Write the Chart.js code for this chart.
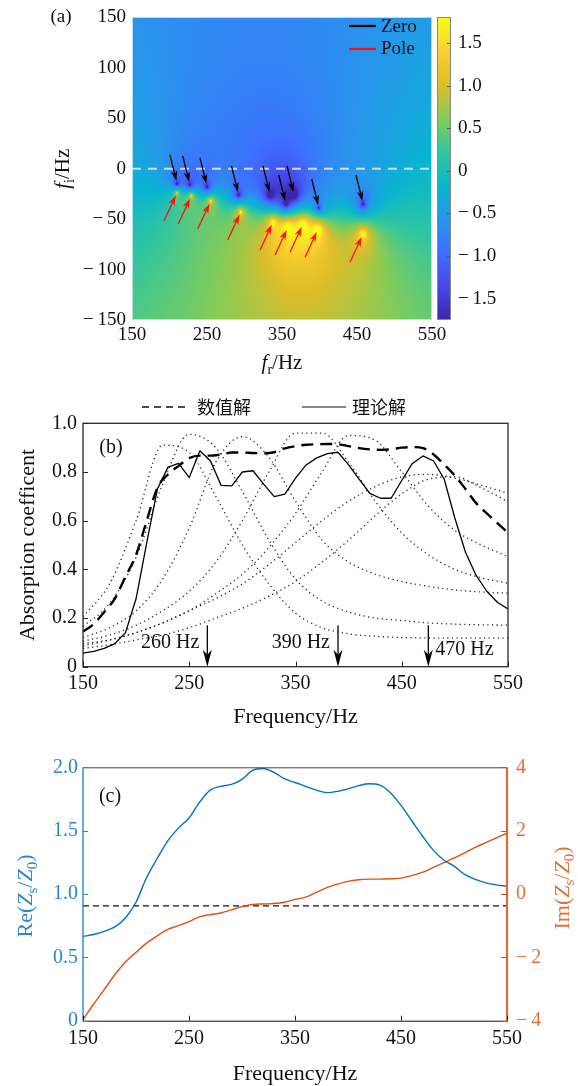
<!DOCTYPE html>
<html>
<head>
<meta charset="utf-8">
<script src="https://cdn.jsdelivr.net/npm/chart.js@4.4.1/dist/chart.umd.min.js"></script>
<style>
  body { margin: 0; background: #fff; }
  canvas { position: absolute; left: 0; }
</style>
</head>
<body>
<canvas id="chartA" width="578" height="380" style="top:0"></canvas>
<canvas id="chartB" width="578" height="360" style="top:380px"></canvas>
<canvas id="chartC" width="578" height="346" style="top:740px"></canvas>
<script>
const SERIF = "'Liberation Serif', 'DejaVu Serif', serif";
const CJK = "'Noto Sans CJK SC', 'Noto Sans CJK JP', sans-serif";

// ---- (a) zeros and poles in the complex frequency plane (Hz) ----
const zeroFr = [210, 227, 250, 292, 334, 355, 366, 399, 458];
const zeroFi = [-15, -16, -18, -26, -26, -35, -26, -39, -35];
const poleFr = [210, 229, 255, 295, 338, 358, 378, 398, 458];
const poleFi = [-24, -27, -32, -43, -53, -58, -55, -60, -65];
const frTicks = [150, 250, 350, 450, 550];
const fiTicks = [-150, -100, -50, 0, 50, 100, 150];
const cbTicks = [-1.5, -1, -0.5, 0, 0.5, 1, 1.5];
const cbRange = [-1.75, 1.8];

// ---- (b) absorption coefficient ----
const freqB = [150, 160, 170, 180, 190, 200, 210, 220, 230, 240, 250, 260, 270, 280, 290, 300, 310, 320, 330, 340, 350,
               360, 370, 380, 390, 400, 410, 420, 430, 440, 450, 460, 470, 480, 490, 500, 510, 520, 530, 540, 550];
const numerical = [0.144, 0.175, 0.225, 0.28, 0.37, 0.46, 0.6, 0.735, 0.79, 0.825, 0.857, 0.867, 0.867, 0.872, 0.88, 0.88,
                   0.878, 0.877, 0.881, 0.897, 0.906, 0.912, 0.914, 0.915, 0.914, 0.906, 0.898, 0.893, 0.891, 0.893, 0.9,
                   0.902, 0.898, 0.872, 0.83, 0.785, 0.73, 0.672, 0.63, 0.59, 0.55];
const theory = [0.056, 0.063, 0.075, 0.095, 0.14, 0.28, 0.51, 0.73, 0.82, 0.835, 0.777, 0.887, 0.845, 0.745, 0.743, 0.8,
                0.805, 0.75, 0.699, 0.709, 0.775, 0.829, 0.858, 0.875, 0.881, 0.829, 0.77, 0.712, 0.692, 0.692, 0.765,
                0.835, 0.866, 0.845, 0.77, 0.61, 0.47, 0.375, 0.31, 0.265, 0.237];
const freqDot = [150, 175, 200, 225, 250, 275, 300, 325, 350, 375, 400, 425, 450, 475, 500, 525, 550];
const dot1 = [0.205, 0.34, 0.6, 0.91, 0.88, 0.7, 0.5, 0.34, 0.22, 0.16, 0.135, 0.125, 0.12, 0.118, 0.117, 0.117, 0.117];
const dot2 = [0.165, 0.26, 0.45, 0.75, 0.955, 0.9, 0.72, 0.52, 0.36, 0.27, 0.225, 0.2, 0.19, 0.18, 0.175, 0.172, 0.171];
const dot3 = [0.12, 0.16, 0.23, 0.36, 0.57, 0.84, 0.945, 0.86, 0.68, 0.52, 0.43, 0.38, 0.35, 0.33, 0.315, 0.307, 0.302];
const dot4 = [0.105, 0.13, 0.17, 0.23, 0.31, 0.43, 0.6, 0.8, 0.96, 0.96, 0.84, 0.68, 0.55, 0.46, 0.4, 0.365, 0.343];
const dot5 = [0.095, 0.11, 0.14, 0.18, 0.23, 0.3, 0.38, 0.49, 0.63, 0.8, 0.95, 0.93, 0.8, 0.66, 0.56, 0.5, 0.452];
const dot6 = [0.085, 0.11, 0.14, 0.18, 0.23, 0.28, 0.34, 0.42, 0.51, 0.6, 0.68, 0.74, 0.78, 0.79, 0.775, 0.745, 0.713];
const dot7 = [0.075, 0.09, 0.11, 0.13, 0.16, 0.2, 0.24, 0.29, 0.35, 0.43, 0.52, 0.62, 0.71, 0.77, 0.78, 0.735, 0.678];
const markFreq = [267, 390, 475];
const markLabel = ['260 Hz', '390 Hz', '470 Hz'];
const absTicks = [0, 0.2, 0.4, 0.6, 0.8, 1.0];

// ---- (c) surface impedance ----
const reZ = [0.665, 0.68, 0.705, 0.74, 0.81, 0.935, 1.13, 1.28, 1.42, 1.52, 1.6, 1.725, 1.82, 1.85, 1.865, 1.905, 1.975,
             1.99, 1.96, 1.91, 1.88, 1.85, 1.82, 1.8, 1.81, 1.83, 1.855, 1.87, 1.86, 1.8, 1.7, 1.58, 1.46, 1.35, 1.27,
             1.22, 1.155, 1.115, 1.088, 1.072, 1.062];
const imZ = [-3.96, -3.48, -3.02, -2.55, -2.15, -1.84, -1.55, -1.32, -1.12, -1.0, -0.87, -0.72, -0.65, -0.6, -0.5, -0.4,
             -0.33, -0.315, -0.3, -0.26, -0.17, -0.1, 0.05, 0.2, 0.31, 0.4, 0.45, 0.47, 0.47, 0.48, 0.5, 0.58, 0.68, 0.83,
             0.98, 1.13, 1.3, 1.47, 1.62, 1.77, 1.92];
const refLevel = 0.907;
const reTicks = [0, 0.5, 1, 1.5, 2];
const imTicks = [-4, -2, 0, 2, 4];

// styles
const parula = [[62, 38, 168], [71, 71, 235], [62, 111, 255], [39, 150, 235], [8, 181, 208],
                [49, 198, 159], [129, 204, 89], [220, 189, 41], [252, 207, 48], [249, 251, 21]];
// shading of the complex plane: gain on log|Z|, constant offset and a gentle tilt with fi
const fieldGain = 1.25, fieldOffset = -0.05, fieldTilt = -0.0015;
const BLUE = '#0072bd', ORANGE = '#d95319';

function cmap(t) {
  t = Math.min(1, Math.max(0, t));
  const s = t * (parula.length - 1);
  const i = Math.min(Math.floor(s), parula.length - 2);
  const u = s - i;
  return parula[i].map((c, k) => Math.round(c + (parula[i + 1][k] - c) * u));
}

function fieldAt(fr, fi) {
  let v = 0;
  for (let k = 0; k < zeroFr.length; k++) {
    v += Math.log10(Math.max(Math.hypot(fr - zeroFr[k], fi - zeroFi[k]), 0.3));
    v -= Math.log10(Math.max(Math.hypot(fr - poleFr[k], fi - poleFi[k]), 0.3));
  }
  return fieldGain * v + fieldOffset + fieldTilt * fi;
}

const pts = (xs, ys) => xs.map((x, i) => ({ x, y: ys[i] }));
const fixedTicks = values => s => { s.ticks = values.map(v => ({ value: v })); };
const signed = (v, d) => (v < 0 ? '\u2212\u2009' : '') + Math.abs(v).toFixed(d);
const noGrid = { display: false, drawTicks: false };

function drawRich(ctx, parts, x, y, size, color, rot) {
  ctx.save();
  ctx.translate(x, y);
  if (rot) ctx.rotate(rot);
  const fontOf = p => `${p.it ? 'italic ' : ''}${p.sub ? Math.round(size * 0.68) : size}px ${SERIF}`;
  let w = 0;
  parts.forEach(p => { ctx.font = fontOf(p); p.w = ctx.measureText(p.t).width; w += p.w; });
  let cx = -w / 2;
  ctx.fillStyle = color;
  ctx.textBaseline = 'alphabetic';
  ctx.textAlign = 'left';
  parts.forEach(p => {
    ctx.font = fontOf(p);
    ctx.fillText(p.t, cx, size * 0.33 + (p.sub ? size * 0.22 : 0));
    cx += p.w;
  });
  ctx.restore();
}

function arrow(ctx, x0, y0, x1, y1, color, lw, headLen, headW) {
  const ang = Math.atan2(y1 - y0, x1 - x0);
  const c = Math.cos(ang), s = Math.sin(ang);
  const bx = x1 - headLen * c, by = y1 - headLen * s;
  const nx = x1 - headLen * 0.7 * c, ny = y1 - headLen * 0.7 * s;
  ctx.save();
  ctx.strokeStyle = color; ctx.fillStyle = color; ctx.lineWidth = lw;
  ctx.beginPath(); ctx.moveTo(x0, y0); ctx.lineTo(nx, ny); ctx.stroke();
  ctx.beginPath();
  ctx.moveTo(x1, y1);
  ctx.lineTo(bx + headW / 2 * s, by - headW / 2 * c);
  ctx.lineTo(nx, ny);
  ctx.lineTo(bx - headW / 2 * s, by + headW / 2 * c);
  ctx.closePath(); ctx.fill();
  ctx.restore();
}

function text(ctx, t, x, y, font, color, align) {
  ctx.save();
  ctx.font = font; ctx.fillStyle = color || '#111';
  ctx.textAlign = align || 'center'; ctx.textBaseline = 'middle';
  ctx.fillText(t, x, y);
  ctx.restore();
}

function inwardTicks(ctx, scale, values, side, color, len) {
  ctx.save();
  ctx.strokeStyle = color; ctx.lineWidth = 1;
  const a = scale.chart.chartArea;
  values.forEach(v => {
    const p = Math.round(scale.getPixelForValue(v)) + 0.5;
    ctx.beginPath();
    if (side === 'bottom') { ctx.moveTo(p, a.bottom); ctx.lineTo(p, a.bottom - len); }
    if (side === 'left') { ctx.moveTo(a.left, p); ctx.lineTo(a.left + len, p); }
    if (side === 'right') { ctx.moveTo(a.right, p); ctx.lineTo(a.right - len, p); }
    ctx.stroke();
  });
  ctx.restore();
}

const base = {
  responsive: false, animation: false, devicePixelRatio: 1,
  plugins: { legend: { display: false }, tooltip: { enabled: false } },
  elements: { point: { radius: 0 }, line: { borderJoinStyle: 'round' } }
};

// ---------- (a) ----------
const fieldPlugin = {
  id: 'field',
  beforeDatasetsDraw(chart) {
    const { ctx, chartArea: a, scales: { x, y, cb } } = chart;
    const L = Math.round(a.left), T = Math.round(a.top);
    const w = Math.round(a.right) - L, h = Math.round(a.bottom) - T;
    const img = ctx.createImageData(w, h);
    for (let j = 0; j < h; j++) {
      const fi = y.getValueForPixel(T + j + 0.5);
      for (let i = 0; i < w; i++) {
        const fr = x.getValueForPixel(L + i + 0.5);
        const c = cmap((fieldAt(fr, fi) - cbRange[0]) / (cbRange[1] - cbRange[0]));
        const o = (j * w + i) * 4;
        img.data[o] = c[0]; img.data[o + 1] = c[1]; img.data[o + 2] = c[2]; img.data[o + 3] = 255;
      }
    }
    ctx.putImageData(img, L, T);
    // colour bar
    const cx0 = a.right + 5, cw = 14;
    const top = Math.round(cb.getPixelForValue(cbRange[1])), bot = Math.round(cb.getPixelForValue(cbRange[0]));
    for (let py = top; py < bot; py++) {
      const c = cmap((cb.getValueForPixel(py + 0.5) - cbRange[0]) / (cbRange[1] - cbRange[0]));
      ctx.fillStyle = `rgb(${c[0]},${c[1]},${c[2]})`;
      ctx.fillRect(cx0, py, cw, 1);
    }
    ctx.save();
    ctx.strokeStyle = '#8a8a8a'; ctx.lineWidth = 1;
    ctx.strokeRect(cx0 + 0.5, top + 0.5, cw - 1, bot - top - 1);
    ctx.strokeStyle = '#555';
    cbTicks.forEach(v => {
      const p = Math.round(cb.getPixelForValue(v)) + 0.5;
      ctx.beginPath(); ctx.moveTo(cx0 + cw - 1, p); ctx.lineTo(cx0 + cw - 4, p); ctx.stroke();
    });
    ctx.strokeStyle = 'rgba(200,225,240,0.9)';
    ctx.strokeRect(L + 0.5, T + 0.5, w - 1, h - 1);
    ctx.restore();
  }
};

const annotA = {
  id: 'annotA',
  afterDatasetsDraw(chart) {
    const { ctx, scales: { x, y } } = chart;
    zeroFr.forEach((f, i) => {
      const px = x.getPixelForValue(f), py = y.getPixelForValue(zeroFi[i]);
      arrow(ctx, px - 7, py - 29, px - 0.6, py - 3, '#000', 1.3, 10, 6.5);
    });
    poleFr.forEach((f, i) => {
      const px = x.getPixelForValue(f), py = y.getPixelForValue(poleFi[i]);
      arrow(ctx, px - 13, py + 28, px - 1.3, py + 2.7, '#ff1010', 1.3, 10, 6.5);
    });
  },
  afterDraw(chart) {
    const { ctx, chartArea: a } = chart;
    ctx.save();
    ctx.lineWidth = 2.2;
    ctx.strokeStyle = '#000';
    ctx.beginPath(); ctx.moveTo(349, 26); ctx.lineTo(376, 26); ctx.stroke();
    ctx.strokeStyle = '#ff1010';
    ctx.beginPath(); ctx.moveTo(349, 49); ctx.lineTo(376, 49); ctx.stroke();
    ctx.restore();
    text(ctx, 'Zero', 381, 27, `19px ${SERIF}`, '#111', 'left');
    text(ctx, 'Pole', 381, 49, `19px ${SERIF}`, '#111', 'left');
    text(ctx, '(a)', 61, 17, `19px ${SERIF}`, '#111');
    drawRich(ctx, [{ t: 'f', it: 1 }, { t: 'i', sub: 1 }, { t: '/Hz' }], 62, (a.top + a.bottom) / 2, 21, '#111', -Math.PI / 2);
    drawRich(ctx, [{ t: 'f', it: 1 }, { t: 'r', sub: 1 }, { t: '/Hz' }], (a.left + a.right) / 2, 362, 21, '#111');
  }
};

new Chart(document.getElementById('chartA'), {
  type: 'line',
  data: {
    datasets: [{
      data: pts([frTicks[0], frTicks[frTicks.length - 1]], [0, 0]),
      borderColor: 'rgba(228,236,244,0.85)', borderWidth: 2, borderDash: [9, 7]
    }]
  },
  options: {
    ...base,
    layout: { padding: { top: 12, left: 0, right: 0, bottom: 0 } },
    scales: {
      x: {
        type: 'linear', min: 150, max: 550, grid: noGrid, border: { display: false },
        afterBuildTicks: fixedTicks(frTicks), afterFit: s => { s.height = 60; },
        ticks: { font: { family: SERIF, size: 19 }, color: '#111', padding: 4, autoSkip: false, maxRotation: 0 }
      },
      y: {
        type: 'linear', min: -150, max: 150, grid: noGrid, border: { display: false },
        afterBuildTicks: fixedTicks(fiTicks), afterFit: s => { s.width = 132; },
        ticks: { font: { family: SERIF, size: 19 }, color: '#111', padding: 6, autoSkip: false, callback: v => signed(v, 0) }
      },
      cb: {
        type: 'linear', position: 'right', min: cbRange[0], max: cbRange[1],
        grid: { display: true, drawOnChartArea: false, drawTicks: true, tickLength: 24, color: 'rgba(0,0,0,0)' },
        border: { display: false },
        afterBuildTicks: fixedTicks(cbTicks), afterFit: s => { s.width = 146; },
        ticks: { font: { family: SERIF, size: 19 }, color: '#111', padding: 2, autoSkip: false,
                 callback: v => v === 0 ? '0' : signed(v, 1) }
      }
    }
  },
  plugins: [fieldPlugin, annotA]
});

// ---------- (b) ----------
const annotB = {
  id: 'annotB',
  afterDraw(chart) {
    const { ctx, chartArea: a, scales: { x, y } } = chart;
    ctx.save();
    ctx.strokeStyle = '#2a2a2a'; ctx.lineWidth = 1.3;
    ctx.strokeRect(a.left, a.top, a.right - a.left, a.bottom - a.top);
    ctx.restore();
    inwardTicks(ctx, x, frTicks, 'bottom', '#222', 5);
    inwardTicks(ctx, y, absTicks, 'left', '#222', 5);
    markFreq.forEach((f, i) => {
      const px = x.getPixelForValue(f);
      arrow(ctx, px, y.getPixelForValue(0.17), px, y.getPixelForValue(0), '#000', 1.3, 17, 9);
      if (i < 2) text(ctx, markLabel[i], px - 8, y.getPixelForValue(0.097), `20px ${SERIF}`, '#111', 'right');
      else text(ctx, markLabel[i], px + 7, y.getPixelForValue(0.068), `20px ${SERIF}`, '#111', 'left');
    });
    // legend
    ctx.save();
    ctx.strokeStyle = '#111'; ctx.lineWidth = 1.5;
    ctx.setLineDash([7, 5]);
    ctx.beginPath(); ctx.moveTo(142, 27); ctx.lineTo(190, 27); ctx.stroke();
    ctx.setLineDash([]); ctx.lineWidth = 1.2;
    ctx.beginPath(); ctx.moveTo(302, 27); ctx.lineTo(346, 27); ctx.stroke();
    ctx.restore();
    text(ctx, '数值解', 197, 27, `18px ${CJK}`, '#111', 'left');
    text(ctx, '理论解', 352, 27, `18px ${CJK}`, '#111', 'left');
    text(ctx, '(b)', 111, a.top + 24, `20px ${SERIF}`, '#111');
    drawRich(ctx, [{ t: 'Absorption coefficent' }], 27, (a.top + a.bottom) / 2, 22, '#111', -Math.PI / 2);
    drawRich(ctx, [{ t: 'Frequency/Hz' }], (a.left + a.right) / 2, 336, 22, '#111');
  }
};

const dotStyle = { borderColor: '#222', borderWidth: 1.3, borderDash: [1.2, 3.4], cubicInterpolationMode: 'monotone' };

new Chart(document.getElementById('chartB'), {
  type: 'line',
  data: {
    datasets: [
      { data: pts(freqB, theory), borderColor: '#000', borderWidth: 1.3, tension: 0 },
      { data: pts(freqB, numerical), borderColor: '#000', borderWidth: 2.4, borderDash: [12, 7], cubicInterpolationMode: 'monotone' },
      { data: pts(freqDot, dot1), ...dotStyle },
      { data: pts(freqDot, dot2), ...dotStyle },
      { data: pts(freqDot, dot3), ...dotStyle },
      { data: pts(freqDot, dot4), ...dotStyle },
      { data: pts(freqDot, dot5), ...dotStyle },
      { data: pts(freqDot, dot6), ...dotStyle },
      { data: pts(freqDot, dot7), ...dotStyle }
    ]
  },
  options: {
    ...base,
    layout: { padding: { top: 43.3, left: 0, right: 70, bottom: 0 } },
    scales: {
      x: {
        type: 'linear', min: 150, max: 550, grid: noGrid, border: { display: false },
        afterBuildTicks: fixedTicks(frTicks), afterFit: s => { s.height = 73.3; },
        ticks: { font: { family: SERIF, size: 20 }, color: '#111', padding: 5, autoSkip: false, maxRotation: 0 }
      },
      y: {
        type: 'linear', min: 0, max: 1, grid: noGrid, border: { display: false },
        afterBuildTicks: fixedTicks(absTicks), afterFit: s => { s.width = 83; },
        ticks: { font: { family: SERIF, size: 20 }, color: '#111', padding: 6, autoSkip: false,
                 callback: v => v === 0 ? '0' : v.toFixed(1) }
      }
    }
  },
  plugins: [annotB]
});

// ---------- (c) ----------
const annotC = {
  id: 'annotC',
  afterDraw(chart) {
    const { ctx, chartArea: a, scales: { x, y, y2 } } = chart;
    ctx.save();
    ctx.lineWidth = 1;
    ctx.strokeStyle = '#444';
    ctx.beginPath(); ctx.moveTo(a.left, a.top + 0.5); ctx.lineTo(a.right, a.top + 0.5); ctx.stroke();
    ctx.strokeStyle = '#111';
    ctx.beginPath(); ctx.moveTo(a.left, a.bottom + 0.5); ctx.lineTo(a.right, a.bottom + 0.5); ctx.stroke();
    ctx.strokeStyle = '#2a86c8'; ctx.lineWidth = 1.4;
    ctx.beginPath(); ctx.moveTo(a.left, a.top); ctx.lineTo(a.left, a.bottom); ctx.stroke();
    ctx.strokeStyle = '#dc6a3a'; ctx.lineWidth = 2.2;
    ctx.beginPath(); ctx.moveTo(a.right, a.top); ctx.lineTo(a.right, a.bottom + 1); ctx.stroke();
    ctx.restore();
    inwardTicks(ctx, x, frTicks, 'bottom', '#222', 5);
    inwardTicks(ctx, y, reTicks, 'left', '#2a86c8', 5);
    inwardTicks(ctx, y2, imTicks, 'right', '#c0502a', 6);
    text(ctx, '(c)', 110, 57, `20px ${SERIF}`, '#111');
    const zs = [{ t: '(' }, { t: 'Z', it: 1 }, { t: 's', sub: 1 }, { t: '/' }, { t: 'Z', it: 1 }, { t: '0', sub: 1 }, { t: ')' }];
    drawRich(ctx, [{ t: 'Re' }, ...zs.map(p => ({ ...p }))], 25, 156, 22, '#2a86c8', -Math.PI / 2);
    drawRich(ctx, [{ t: 'Im' }, ...zs.map(p => ({ ...p }))], 562, 148, 22, '#e0703a', -Math.PI / 2);
    drawRich(ctx, [{ t: 'Frequency/Hz' }], (a.left + a.right) / 2, 333, 22, '#111');
  }
};

new Chart(document.getElementById('chartC'), {
  type: 'line',
  data: {
    datasets: [
      { data: pts(freqB, reZ), borderColor: BLUE, borderWidth: 1.4, cubicInterpolationMode: 'monotone', yAxisID: 'y' },
      { data: pts(freqB, imZ), borderColor: ORANGE, borderWidth: 1.4, cubicInterpolationMode: 'monotone', yAxisID: 'y2' },
      { data: pts([freqB[0], freqB[freqB.length - 1]], [refLevel, refLevel]), borderColor: '#111', borderWidth: 1.3,
        borderDash: [6, 4], yAxisID: 'y' }
    ]
  },
  options: {
    ...base,
    layout: { padding: { top: 27.3, left: 0, right: 0, bottom: 0 } },
    scales: {
      x: {
        type: 'linear', min: 150, max: 550, grid: noGrid, border: { display: false },
        afterBuildTicks: fixedTicks(frTicks), afterFit: s => { s.height = 65.3; },
        ticks: { font: { family: SERIF, size: 20 }, color: '#111', padding: 6, autoSkip: false, maxRotation: 0 }
      },
      y: {
        type: 'linear', min: 0, max: 2, grid: noGrid, border: { display: false },
        afterBuildTicks: fixedTicks(reTicks), afterFit: s => { s.width = 83; },
        ticks: { font: { family: SERIF, size: 20 }, color: '#2a86c8', padding: 5, autoSkip: false,
                 callback: v => v === 0 ? '0' : v.toFixed(1) }
      },
      y2: {
        type: 'linear', position: 'right', min: -4, max: 4, grid: noGrid, border: { display: false },
        afterBuildTicks: fixedTicks(imTicks), afterFit: s => { s.width = 71; },
        ticks: { font: { family: SERIF, size: 20 }, color: '#e0703a', padding: 9, autoSkip: false,
                 callback: v => signed(v, 0) }
      }
    }
  },
  plugins: [annotC]
});
</script>
</body>
</html>
